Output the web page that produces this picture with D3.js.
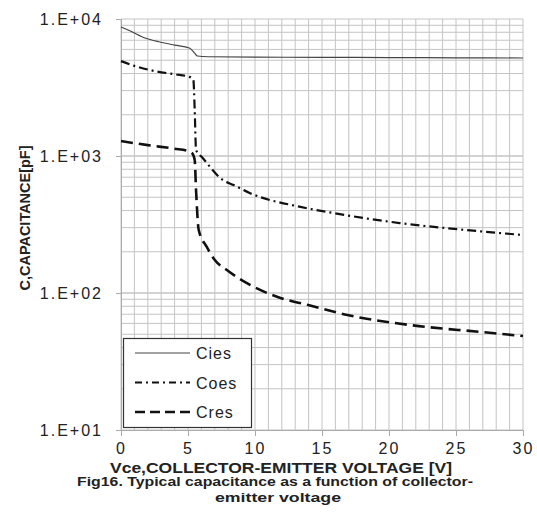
<!DOCTYPE html>
<html>
<head>
<meta charset="utf-8">
<script src="https://cdn.jsdelivr.net/npm/d3@7"></script>
<style>
  body { margin: 0; background: #fff; }
  text { font-family: "Liberation Sans", Arial, sans-serif; fill: #222; }
</style>
</head>
<body>
<div id="chart"></div>
<script>
// voltages (V) and capacitances (pF)
const ciesV = [0, 0.7, 1.8, 2.9, 4.0, 5.1, 5.5, 5.7, 6.5, 10, 15, 20, 25, 30];
const ciesC = [8740, 8170, 7260, 6790, 6450, 6140, 5640, 5370, 5300, 5270, 5250, 5230, 5210, 5190];

const coesV = [0, 1, 2.5, 4, 5.1, 5.4, 5.5, 5.6, 6.1, 7.6, 8.4, 9.6, 13.4, 15.8, 20.8, 25.8, 30];
const coesC = [4930, 4550, 4170, 3950, 3780, 3590, 2170, 1107, 967, 668, 614, 537, 425, 384, 324, 288, 265];

const cresV = [0, 2, 4, 5.0, 5.3, 5.5, 5.6, 5.8, 6.4, 7.0, 7.9, 9.4, 11.9, 13.9, 16.9, 21.8, 26.8, 30];
const cresC = [1285, 1200, 1130, 1087, 1051, 935, 565, 288, 217, 174, 147, 118, 92, 82, 69, 58, 52, 48.5];

const xTicks = [0, 5, 10, 15, 20, 25, 30];
const yTicks = [10, 100, 1000, 10000];
const yTickLabels = ["1.E+01", "1.E+02", "1.E+03", "1.E+04"];
const seriesNames = ["Cies", "Coes", "Cres"];

const W = 537, H = 515;
const svg = d3.select("#chart").append("svg").attr("width", W).attr("height", H);

const x = d3.scaleLinear().domain([0, 30]).range([121, 523]);
const y = d3.scaleLog().domain([10, 10000]).range([430, 19]);

// grid
const gridColor = "#c4c4c4";
const g = svg.append("g");
g.selectAll(".vg").data(d3.range(0, 31)).enter().append("line")
  .attr("x1", d => x(d)).attr("x2", d => x(d))
  .attr("y1", y(10000)).attr("y2", y(10))
  .attr("stroke", gridColor).attr("stroke-width", 1);
const minor = [];
[10, 100, 1000].forEach(dec => d3.range(1, 11).forEach(k => minor.push(dec * k)));
g.selectAll(".hg").data(minor).enter().append("line")
  .attr("x1", x(0)).attr("x2", x(30))
  .attr("y1", d => y(d)).attr("y2", d => y(d))
  .attr("stroke", gridColor).attr("stroke-width", 1);

// axes
const xAxis = svg.append("g").attr("transform", `translate(0,${y(10)})`)
  .call(d3.axisBottom(x).tickValues(xTicks).tickSize(6).tickPadding(4));
const yAxis = svg.append("g").attr("transform", `translate(${x(0)},0)`)
  .call(d3.axisLeft(y).tickValues(yTicks).tickFormat((d, i) => yTickLabels[i]).tickSize(5).tickPadding(13));
[xAxis, yAxis].forEach(a => {
  a.select(".domain").attr("stroke", "#aaa");
  a.selectAll(".tick line").attr("stroke", "#aaa");
  a.selectAll(".tick text").attr("font-size", 16).attr("letter-spacing", "2px")
    .attr("fill", "#333").style("font-family", "'Liberation Sans', Arial, sans-serif");
});
xAxis.selectAll(".tick text").attr("dy", "0.85em");

// curves
const line = d3.line().x(d => x(d[0])).y(d => y(d[1])).curve(d3.curveMonotoneX);
const series = [
  { name: seriesNames[0], pts: d3.zip(ciesV, ciesC), color: "#444", w: 1.2, dash: null },
  { name: seriesNames[1], pts: d3.zip(coesV, coesC), color: "#111", w: 2.2, dash: "9,4,2,4" },
  { name: seriesNames[2], pts: d3.zip(cresV, cresC), color: "#111", w: 2.6, dash: "12,6" }
];
svg.selectAll(".curve").data(series).enter().append("path")
  .attr("d", d => line(d.pts)).attr("fill", "none")
  .attr("stroke", d => d.color).attr("stroke-width", d => d.w)
  .attr("stroke-dasharray", d => d.dash);

// legend
const lg = svg.append("g");
lg.append("rect").attr("x", 123.5).attr("y", 338.5).attr("width", 128).attr("height", 89)
  .attr("fill", "#fff").attr("stroke", "#333").attr("stroke-width", 1.2);
series.forEach((s, i) => {
  const ly = 353 + i * 29.5;
  lg.append("line").attr("x1", 135).attr("x2", 190).attr("y1", ly).attr("y2", ly)
    .attr("stroke", s.color).attr("stroke-width", s.w)
    .attr("stroke-dasharray", s.dash ? (i === 1 ? "7,4,2,4" : "10,5") : null);
  lg.append("text").attr("x", 196).attr("y", ly + 6).attr("font-size", 16)
    .attr("letter-spacing", "1px").attr("fill", "#333").text(s.name);
});

// titles
svg.append("text").attr("x", 281).attr("y", 473).attr("text-anchor", "middle")
  .attr("font-size", 15).attr("font-weight", "bold")
  .attr("textLength", 342).attr("lengthAdjust", "spacingAndGlyphs")
  .text("Vce,COLLECTOR-EMITTER VOLTAGE [V]");
svg.append("text").attr("x", 275).attr("y", 486).attr("text-anchor", "middle")
  .attr("font-size", 12.5).attr("font-weight", "bold")
  .attr("textLength", 396).attr("lengthAdjust", "spacingAndGlyphs")
  .text("Fig16.  Typical capacitance as a function of collector-");
svg.append("text").attr("x", 278).attr("y", 502).attr("text-anchor", "middle")
  .attr("font-size", 12.5).attr("font-weight", "bold")
  .attr("textLength", 126).attr("lengthAdjust", "spacingAndGlyphs")
  .text("emitter voltage");
svg.append("text").attr("transform", "translate(30,218) rotate(-90)")
  .attr("text-anchor", "middle").attr("font-size", 14).attr("font-weight", "bold")
  .attr("textLength", 145).attr("lengthAdjust", "spacingAndGlyphs")
  .text("C,CAPACITANCE[pF]");
</script>
</body>
</html>
